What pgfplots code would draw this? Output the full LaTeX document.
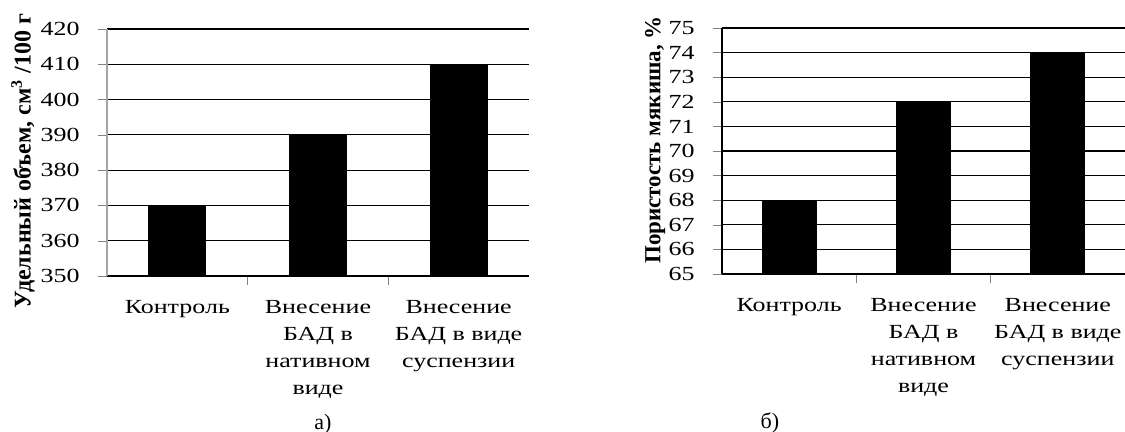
\documentclass[border=0pt]{standalone}
\usepackage{fontspec}
\setmainfont{Liberation Serif}
\usepackage{pgfplots}
\pgfplotsset{compat=1.18}
\pgfplotsset{
  mybars/.style={
    anchor=south west, scale only axis,
    xmin=0, xmax=3,
    axis x line*=bottom, axis y line*=left,
    tick align=outside,
    xtick={1,2}, xticklabels={},
    extra x ticks={0.5,1.5,2.5},
    extra x tick style={major tick length=0pt},
    major tick length=4.5pt,
    ymajorgrids,
    grid style={black, line width=0.6pt},
    x axis line style={black, line width=0.6pt},
    /pgf/number format/assume math mode=true,
    tick label style={font=\rmfamily\fontsize{10}{13.5}\selectfont, xscale=1.3},
    xticklabel style={align=center, anchor=north, yshift=-8.5pt},
    yticklabel style={xshift=-3.5pt},
    ybar, bar width=28pt, bar shift=0pt,
  }
}
\begin{document}
\begin{tikzpicture}
\useasboundingbox (0,0) rectangle (562.5pt,-216pt);
\begin{axis}[mybars,
  at={(53.5pt,-138pt)},
  width=211pt, height=123.5pt,
  ymin=350, ymax=420, ytick={350,360,...,420},
  y axis line style={gray!70, line width=0.6pt},
  extra x tick labels={Контроль, {Внесение\\БАД в\\нативном\\виде}, {Внесение\\БАД в виде\\суспензии}},
  ylabel={Удельный объем, см\textsuperscript{3} /100 г},
  ylabel style={font=\rmfamily\bfseries\fontsize{12}{14}\selectfont, at={(axis description cs:-0.199,0.466)}, anchor=center},
  bar width=28.5pt,
]
\addplot[fill=black, draw=black] coordinates {(0.5,370) (1.5,390) (2.5,410)};
\end{axis}
\begin{axis}[mybars,
  at={(361pt,-137pt)},
  width=201.5pt, height=123pt,
  ymin=65, ymax=75, ytick={65,66,...,75},
  y axis line style={black, line width=0.6pt},
  extra x tick labels={Контроль, {Внесение\\БАД в\\нативном\\виде}, {Внесение\\БАД в виде\\суспензии}},
  ylabel={Пористость мякиша, \%},
  ylabel style={font=\rmfamily\bfseries\fontsize{11.5}{13.5}\selectfont, at={(axis description cs:-0.166,0.545)}, anchor=center},
  bar width=27pt,
]
\addplot[fill=black, draw=black] coordinates {(0.5,68) (1.5,72) (2.5,74)};
\end{axis}
\node[font=\fontsize{11}{13}\selectfont] at (161.5pt,-212pt) {а)};
\node[font=\fontsize{11}{13}\selectfont] at (385pt,-211.5pt) {б)};
\end{tikzpicture}
\end{document}
